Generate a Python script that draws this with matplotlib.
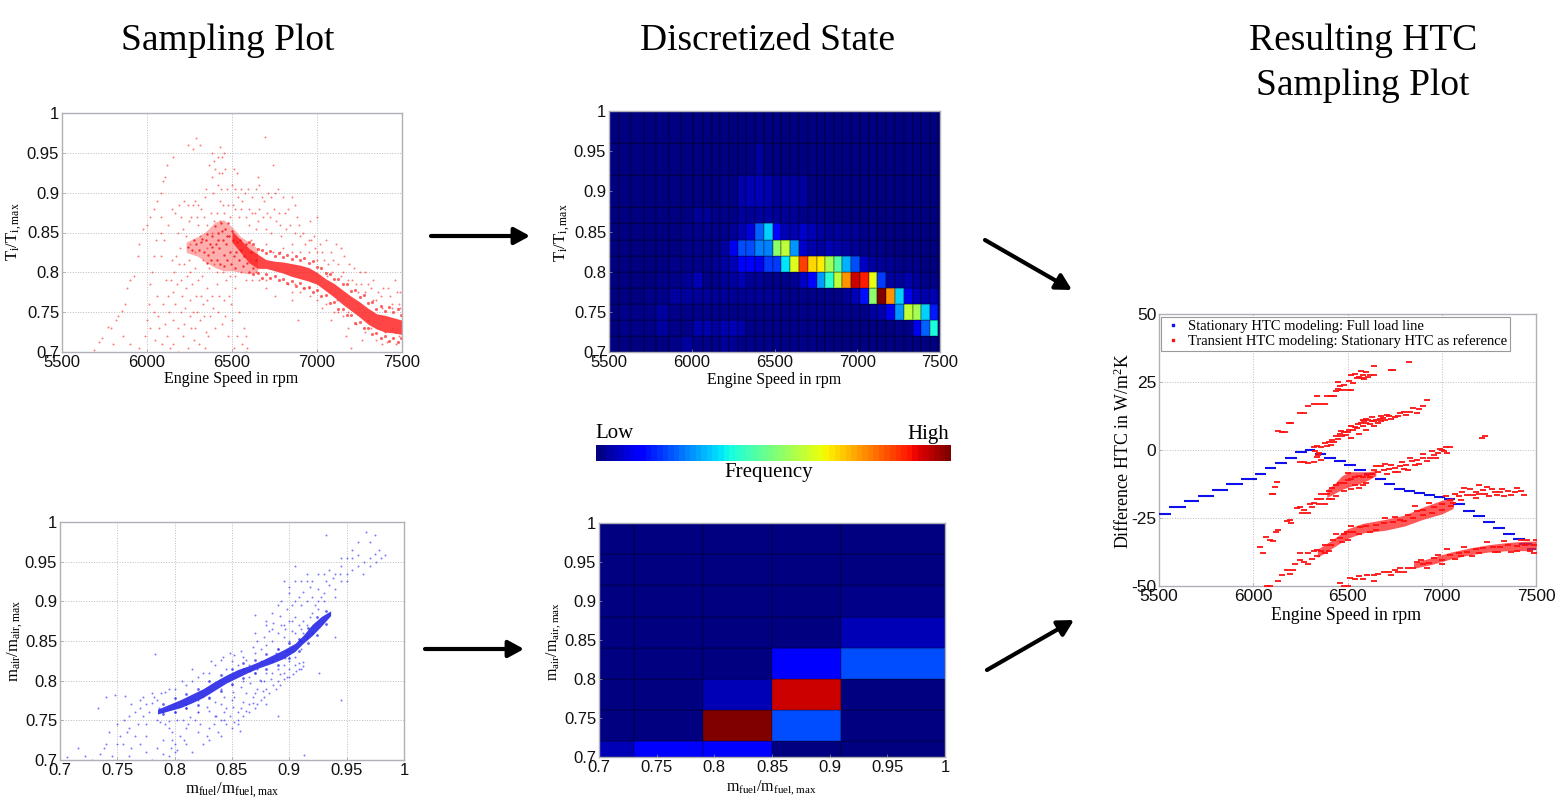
import matplotlib
matplotlib.use("Agg")
import matplotlib.pyplot as plt
from matplotlib.cm import ScalarMappable
from matplotlib.colors import Normalize
from matplotlib.lines import Line2D

W, H = 1560, 807
plt.rcParams['font.family'] = ['Liberation Sans', 'DejaVu Sans']
plt.rcParams['mathtext.fontset'] = 'custom'
plt.rcParams['mathtext.rm'] = 'Liberation Serif'
plt.rcParams['mathtext.it'] = 'Liberation Serif'
plt.rcParams['mathtext.bf'] = 'Liberation Serif'

# ---------------- DATA ----------------
speed_ticks = [5500, 6000, 6500, 7000, 7500]
ratio_ticks = [0.7, 0.75, 0.8, 0.85, 0.9, 0.95, 1]
ratio_labels = ['0.7', '0.75', '0.8', '0.85', '0.9', '0.95', '1']
htc_ticks = [-50, -25, 0, 25, 50]

temp_sparse = [(5690,.703),(5715,.712),(5735,.718),(5770,.731),(5790,.73),(5815,.74),(5830,.745),(5850,.752),(5870,.76),(5885,.78),(5900,.79),(5925,.795),(5945,.82),(5955,.835),(5975,.855),(6000,.86),(6020,.87),(6040,.88),(6060,.89),(6085,.9),(6095,.915),(6105,.92),(6120,.935),(6150,.945),
(5800,.71),(5860,.72),(5900,.71),(5950,.705),(5990,.72),(6000,.74),(6010,.76),(6020,.785),(6030,.80),(6040,.82),(6050,.84),(6080,.85),(6100,.84),(6085,.82),(6110,.79),(6060,.77),(6040,.75),(6070,.73),(6090,.71),(6120,.72),(6130,.75),(6150,.775),(6160,.80),(6170,.82),(6180,.85),(6200,.87),(6220,.89),(6240,.885),(6260,.87),(6280,.89),(6300,.885),(6320,.88),(6340,.895),(6300,.86),(6230,.845),(6220,.81),(6200,.79),(6230,.78),(6250,.765),(6200,.75),(6180,.73),(6150,.71),(6210,.72),(6240,.705),(6260,.73),(6270,.75),(6290,.77),(6300,.79),(6250,.80),(6280,.805),(6310,.74),(6330,.76),(6350,.78),(6360,.72),(6340,.705),(6400,.73),(6420,.75),(6450,.765),(6480,.77),(6500,.74),(6530,.72),(6560,.71),(6570,.73),(6540,.75),(6520,.78),
(6240,.96),(6270,.955),(6290,.968),(6310,.96),(6380,.95),(6430,.957),(6440,.945),(6450,.95),(6380,.92),(6400,.93),(6420,.91),(6440,.925),(6460,.93),(6470,.905),(6430,.89),(6410,.875),(6390,.90),(6510,.93),(6530,.925),(6550,.905),(6560,.89),(6500,.91),(6520,.88),(6540,.87),(6580,.87),(6600,.88),(6620,.895),(6640,.905),(6660,.88),(6680,.87),(6690,.89),(6710,.90),(6730,.895),(6750,.90),(6770,.905),(6800,.895),(6830,.88),(6850,.895),(6870,.885),(6650,.92),(6660,.91),(6695,.97),(6740,.935),
(6600,.86),(6640,.855),(6700,.855),(6730,.85),(6760,.865),(6790,.845),(6820,.855),(6850,.835),(6880,.87),(6900,.845),(6920,.85),(6950,.84),(6980,.845),(7000,.87),(6960,.865),(7020,.835),(7050,.84),(7080,.825),(7110,.835),(7140,.83),(7160,.82),(7190,.81),(7220,.805),(7250,.80),(7280,.80),(7300,.785),(7330,.79),(7360,.775),(7390,.78),(7420,.78),(7460,.79),(7490,.775),(7480,.76),(7440,.76),(7000,.825),(6950,.825),(6900,.825),(6850,.825),(6800,.83),(6700,.835),(7040,.815),(7090,.80),(7140,.795),(7180,.79),(7230,.785),(7280,.775),(7330,.765),(6950,.78),(7000,.765),(7050,.76),(7100,.75),(7150,.745),(7180,.73),(7200,.705),(7230,.735),(7280,.725),(7350,.715),(7410,.712),(7440,.73),(7480,.72),(7000,.70),(6700,.78),(6750,.77),(6850,.765),(6890,.74),(6580,.70),(6590,.705),(6585,.72),(6610,.84),(6640,.80),(6850,.775),(6900,.775),
(6255,.835),(6280,.825),(6310,.845),(6330,.815),(6350,.83),(6365,.805),(6380,.85),(6395,.81),(6410,.80),(6430,.865),(6445,.80),(6465,.79),(6490,.795),(6520,.795),(6550,.80),(6580,.79),(6620,.79),(6660,.79),(6700,.79),(6740,.825),(6780,.825),(6830,.785),(6870,.785),(6920,.78),(7000,.815),(7060,.795),(7120,.765),(7180,.75),(7240,.775),(7300,.74),(7350,.765),(7400,.725),(7460,.725),(7490,.755),(7440,.755),(7380,.755)]
temp_cloud_more = [(6015,.73),(6045,.715),(6065,.745),(6095,.76),(6105,.735),(6125,.77),(6135,.705),(6140,.79),(6145,.815),(6155,.74),(6165,.76),(6175,.785),(6185,.70),(6190,.81),(6195,.83),(6205,.77),(6215,.735),(6225,.755),(6235,.795),(6245,.815),(6255,.745),(6265,.785),(6275,.715),(6285,.73),(6295,.75),(6305,.71),(6315,.77),(6325,.795),(6335,.745),(6345,.725),(6355,.765),(6370,.745),(6380,.77),(6390,.755),(6410,.785),(6425,.77),(6440,.735),(6460,.745),(6475,.72),(6495,.76),(6510,.705),(6085,.87),(6125,.86),(6145,.88),(6165,.875),(6190,.885),(6210,.855),(6245,.865),(6270,.885),(6295,.87),(6335,.87),(6355,.86),(6375,.875),(6395,.865),(6345,.905),(6365,.935),(6395,.94),(6415,.945),(6425,.925),(6435,.905),(6445,.885),(6455,.875),(6475,.885),(6490,.87),(6505,.885),(6515,.905),(6535,.895),(6555,.88),(6575,.90),(6595,.905),(6615,.875),(6635,.875),(6655,.865),(6675,.895),(6705,.875),(6725,.87),(6745,.88),(6775,.875),(6810,.875),(6785,.86),(6840,.86),(6870,.85),(6895,.86),(6930,.835),(6965,.84),(6990,.83),(7030,.825),(7065,.81),(7095,.815),(7125,.81),(7155,.80),(7205,.79),(7260,.785),(7315,.78),(7375,.77),(7430,.77),(7470,.775),(6960,.77),(7030,.755),(7080,.74),(7125,.75),(7170,.72),(7265,.715),(7320,.73),(7385,.71),(7465,.71)]
temp_blob_dots = [(6240,.832),(6265,.828),(6275,.84),(6290,.835),(6305,.828),(6315,.838),(6325,.842),(6335,.825),(6345,.84),(6355,.848),(6360,.822),(6370,.835),(6375,.815),(6385,.845),(6390,.825),(6400,.858),(6405,.835),(6412,.815),(6420,.85),(6425,.83),(6430,.81),(6438,.862),(6445,.84),(6450,.822),(6455,.808),(6460,.855),(6465,.835),(6470,.815),(6478,.862),(6482,.845),(6490,.825),(6495,.81),(6505,.84),(6512,.82),(6520,.806),(6530,.838),(6540,.815),(6555,.828),(6565,.808),(6580,.835),(6590,.812),(6610,.826),(6625,.805),(6640,.815),(6350,.812),(6382,.832),(6418,.84),(6442,.852),(6472,.846),(6500,.852),(6525,.825),(6548,.84),(6570,.82),(6600,.80)]
temp_band_edges = [(6600,.838),(6625,.835),(6650,.829),(6675,.828),(6700,.824),(6725,.827),(6750,.821),(6775,.824),(6800,.819),(6825,.822),(6850,.817),(6875,.82),(6900,.815),(6925,.818),(6950,.812),(6975,.814),(7000,.807),(7025,.806),(7050,.799),(7075,.798),(7100,.792),(7125,.792),(7150,.785),(7175,.785),(7200,.777),(7225,.778),(7250,.769),(7275,.771),(7300,.761),(7325,.763),(7350,.754),(7375,.758),(7400,.751),(7425,.756),(7450,.75),(7475,.754),(7495,.747),
(6625,.798),(6650,.799),(6675,.793),(6700,.798),(6725,.793),(6750,.796),(6775,.79),(6800,.792),(6825,.787),(6850,.789),(6875,.783),(6900,.786),(6925,.78),(6950,.782),(6975,.775),(7000,.778),(7025,.77),(7050,.771),(7075,.762),(7100,.763),(7125,.754),(7150,.754),(7175,.746),(7200,.746),(7225,.737),(7250,.738),(7275,.73),(7300,.73),(7325,.722),(7350,.724),(7375,.717),(7400,.72),(7425,.714),(7450,.718),(7475,.712),(7495,.717)]

temp_band_x = [6500, 6550, 6600, 6650, 6700, 6750, 6800, 6850, 6900, 6950, 7000, 7050, 7100, 7150, 7200, 7250, 7300, 7350, 7400, 7450, 7500]
temp_band_lo = [.838, .825, .812, .805, .805, .802, .799, .795, .792, .789, .785, .777, .769, .760, .752, .744, .735, .729, .725, .724, .722]
temp_band_hi = [.852, .841, .830, .823, .816, .814, .813, .811, .809, .806, .800, .792, .786, .778, .770, .763, .755, .748, .746, .743, .740]
temp_blob_x = [6230, 6300, 6350, 6400, 6450, 6500, 6550, 6600, 6650]
temp_blob_lo = [.825, .820, .812, .806, .802, .802, .800, .798, .800]
temp_blob_hi = [.838, .845, .852, .863, .866, .857, .845, .838, .830]

bin_speed_edges = [5500,5560,5635,5710,5785,5860,5935,6010,6065,6120,6170,6225,6277,6330,6382,6435,6490,6542,6595,6648,6700,6755,6805,6857,6910,6962,7017,7070,7122,7175,7228,7280,7335,7387,7440,7490,7500]
bin_temp_edges = [.70,.72,.74,.76,.78,.80,.82,.84,.86,.88,.92,.96,1.0]
# bottom row first
temp_freq_r0 = [0,0,0,0,0,.01,.03,.01,.01,.01,.02,.02,.01,.01,.01,.01,.01,.01,.01,.01,.01,0,0,0,0,0,0,0,0,0,0,0,0,0,0,0]
temp_freq_r1 = [0,.01,.01,.01,.03,.01,.01,.04,.04,.03,.04,.05,.04,.01,.01,.01,.01,.01,.01,.01,.01,.01,0,0,0,0,0,0,0,0,.01,.01,.10,.22,.38,0]
temp_freq_r2 = [0,.01,.01,.01,.03,.01,.01,.01,.01,.01,.01,.01,.01,.01,.01,.01,.01,.01,.01,.01,.01,.01,.01,.01,.01,.01,.01,.03,.04,.10,.27,.58,.55,.33,.15,0]
temp_freq_r3 = [0,0,0,.01,.01,.03,.03,.02,.02,.02,.02,.02,.02,.02,.02,.02,.02,.01,.01,.01,.01,.01,.01,.01,.02,.05,.14,.52,1.0,.75,.33,.10,.05,.04,.05,0]
temp_freq_r4 = [0,0,0,0,.01,.01,.02,.05,.01,.01,.02,.03,.05,.02,.02,.01,.01,.01,.02,.06,.13,.28,.40,.58,.75,.93,.88,.63,.18,.03,.03,.04,.02,.01,.01,0]
temp_freq_r5 = [0,0,0,0,0,.01,.01,.01,.01,.02,.03,.05,.12,.12,.10,.18,.18,.35,.62,.84,.68,.66,.55,.45,.30,.20,.06,.03,.02,.02,.01,.01,.01,0,0,0]
temp_freq_r6 = [0,0,0,0,0,0,.01,.01,.01,.01,.03,.10,.20,.20,.25,.25,.52,.58,.27,.07,.04,.03,.05,.04,.03,.02,.01,.01,.01,0,0,0,0,0,0,0]
temp_freq_r7 = [0,0,0,0,0,0,.01,.01,.01,.01,.01,.02,.05,.08,.22,.33,.12,.05,.04,.07,.05,.03,.02,.03,.02,.02,.01,.01,0,0,0,0,0,0,0,0]
temp_freq_r8 = [0,0,0,0,0,0,0,.02,.02,.01,.01,.01,.03,.02,.03,.03,.02,.02,.02,.01,.01,.01,0,0,0,0,0,0,0,0,0,0,0,0,0,0]
temp_freq_r9 = [0,0,0,0,0,0,0,0,0,0,.01,.01,.04,.05,.05,.04,.02,.03,.03,.03,0,0,0,0,0,0,0,0,0,0,0,0,0,0,0,0]
temp_freq_r10 = [0,0,0,0,0,0,0,0,0,0,0,0,0,0,.03,0,0,0,0,0,0,0,0,0,0,0,0,0,0,0,0,0,0,0,0,0]
temp_freq_r11 = [0]*36
temp_freq = [temp_freq_r0, temp_freq_r1, temp_freq_r2, temp_freq_r3, temp_freq_r4, temp_freq_r5, temp_freq_r6, temp_freq_r7, temp_freq_r8, temp_freq_r9, temp_freq_r10, temp_freq_r11]

air_sparse = [(.706,.704),(.716,.715),(.728,.70),(.735,.708),(.745,.705),(.75,.72),(.733,.765),(.74,.78),(.748,.782),(.757,.781),(.75,.745),(.76,.755),(.756,.75),(.765,.76),(.77,.765),(.775,.77),(.78,.772),(.785,.775),(.788,.785),(.792,.786),(.782,.78),(.77,.775),(.76,.74),(.765,.73),(.77,.72),(.775,.71),(.755,.72),(.74,.72),(.76,.705),(.78,.70),(.785,.715),(.79,.725),(.795,.705),(.797,.715),(.80,.72),(.775,.745),(.785,.75),(.795,.74),(.805,.73),(.81,.74),(.82,.735),(.83,.74),(.825,.72),(.815,.71),(.803,.70),(.84,.73),(.85,.74),(.855,.75),(.86,.755),(.845,.765),(.835,.755),(.82,.76),(.81,.765),(.80,.76),(.79,.76),
(.787,.748),(.795,.749),(.802,.75),(.807,.751),(.813,.754),(.82,.76),(.828,.767),(.835,.773),(.843,.78),(.851,.786),(.858,.792),(.866,.797),(.874,.801),(.836,.755),(.843,.76),(.851,.767),(.86,.773),(.868,.78),(.877,.787),(.886,.795),(.895,.802),(.903,.809),(.91,.815),(.912,.824),(.908,.822),(.90,.815),(.89,.80),(.88,.79),(.87,.785),(.875,.775),(.865,.77),(.855,.76),(.85,.775),
(.783,.834),(.89,.755),(.857,.737),(.913,.706),(.926,.81),(.945,.775),(.94,.855),(.932,.983),(.902,.875),(.87,.883),
(.80,.79),(.81,.795),(.82,.805),(.83,.81),(.84,.826),(.845,.815),(.85,.825),(.86,.83),(.865,.82),(.87,.835),(.875,.84),(.88,.845),(.885,.85),(.89,.86),(.895,.87),(.90,.875),(.905,.88),(.91,.865),(.915,.87),(.92,.885),(.925,.89),(.905,.86),(.895,.855),(.885,.865),(.893,.87),(.915,.855),(.90,.85),(.91,.85),(.92,.86),
(.88,.875),(.885,.885),(.89,.895),(.893,.90),(.90,.91),(.905,.90),(.91,.895),(.915,.90),(.92,.905),(.925,.915),(.93,.91),(.935,.92),(.94,.915),(.945,.925),(.95,.935),(.955,.94),(.96,.945),(.965,.95),(.97,.955),(.975,.96),(.98,.955),(.983,.958),(.978,.965),(.97,.975),(.975,.983),(.967,.987),(.96,.975),(.955,.965),(.95,.955),(.945,.945),(.94,.935),(.935,.94),(.93,.935),(.925,.935),(.92,.925),(.915,.925),(.91,.925),(.905,.925),(.90,.918),(.895,.925),(.905,.945),(.915,.935),(.945,.955),(.94,.905),(.93,.90),(.925,.90),
(.855,.82),(.86,.815),(.87,.81),(.875,.80),(.88,.81),(.885,.81),(.89,.815),(.895,.82),(.90,.825),(.905,.83),(.91,.84),(.905,.82),(.895,.81),(.885,.825),(.875,.825),(.865,.805),(.86,.80),(.85,.795),(.84,.79),(.83,.78),(.82,.775),(.81,.77),(.88,.77),(.865,.76),(.87,.765),(.84,.75),(.845,.745),(.855,.745),(.83,.725),(.81,.72),(.80,.71),(.798,.735),(.79,.708),(.775,.73)]
air_cloud_more = [(.722,.705),(.738,.715),(.752,.73),(.758,.735),(.743,.735),(.762,.715),(.768,.745),(.772,.755),(.778,.76),(.762,.77),(.772,.78),(.78,.785),(.786,.765),(.792,.745),(.798,.725),(.802,.712),(.808,.725),(.812,.745),(.818,.75),(.822,.745),(.828,.73),(.834,.745),(.838,.735),(.843,.75),(.848,.755),(.852,.748),(.858,.765),(.862,.762),(.868,.772),(.872,.77),(.878,.78),(.882,.785),(.888,.79),(.892,.795),(.898,.805),(.906,.812),(.872,.79),(.862,.785),(.852,.78),(.84,.77),(.83,.762),(.878,.80),(.884,.802),(.892,.808),(.90,.805),(.908,.815),(.912,.818),(.896,.828),(.888,.835),(.872,.815),(.866,.812),(.806,.80),(.815,.80),(.825,.81),(.835,.82),(.842,.83),(.852,.832),(.858,.838),(.862,.826),(.868,.842),(.872,.85),(.878,.855),(.882,.862),(.886,.873),(.892,.882),(.898,.89),(.902,.895),(.908,.905),(.912,.912),(.918,.918),(.896,.865),(.902,.862),(.908,.87),(.912,.875),(.918,.88),(.922,.895),(.928,.905),(.932,.925),(.938,.93),(.944,.935),(.95,.925),(.955,.955),(.96,.958),(.964,.935),(.97,.945),(.976,.95),(.795,.79),(.815,.815),(.832,.825),(.848,.835),(.87,.86),(.88,.87),(.89,.84),(.898,.838),(.912,.86)]
air_band_edges = [(.79,.758),(.80,.76),(.81,.765),(.82,.769),(.83,.778),(.84,.787),(.85,.796),(.86,.803),(.87,.81),(.88,.815),(.89,.82),(.90,.828),(.908,.838),(.916,.848),(.924,.858),(.932,.872),(.79,.77),(.80,.778),(.81,.783),(.82,.79),(.83,.80),(.84,.807),(.85,.815),(.86,.822),(.87,.826),(.88,.834),(.89,.84),(.90,.848),(.908,.853),(.916,.866),(.924,.88),(.932,.888)]

air_band_x = [.785, .795, .805, .815, .825, .835, .845, .855, .865, .875, .885, .895, .905, .912, .92, .928, .936]
air_band_lo = [.758, .762, .766, .772, .779, .788, .797, .804, .811, .817, .822, .828, .837, .847, .857, .869, .882]
air_band_hi = [.764, .770, .776, .783, .790, .799, .807, .814, .819, .825, .832, .839, .847, .857, .871, .881, .888]

bin_fuel_edges = [.70, .73, .79, .85, .91, 1.0]
bin_air_edges = [.70, .72, .76, .80, .84, .88, .92, .96, 1.0]
air_freq_r0 = [.05, .11, .11, 0, 0]
air_freq_r1 = [0, 0, 1.0, .20, 0]
air_freq_r2 = [0, 0, .05, .93, 0]
air_freq_r3 = [0, 0, 0, .11, .20]
air_freq_r4 = [0, 0, 0, 0, .05]
air_freq_r5 = [0, 0, 0, 0, .01]
air_freq_r6 = [0, 0, 0, 0, 0]
air_freq_r7 = [0, 0, 0, 0, 0]
air_freq = [air_freq_r0, air_freq_r1, air_freq_r2, air_freq_r3, air_freq_r4, air_freq_r5, air_freq_r6, air_freq_r7]

stat_start = [5500,5555,5633,5705,5782,5856,5933,6010,6062,6115,6168,6221,6274,6328,6376,6428,6481,6535,6588,6646,6694,6747,6800,6853,6907,6960,7013,7062,7115,7168,7221,7272,7325,7378,7410,7452]
stat_end = [5564,5642,5714,5792,5865,5945,6018,6068,6120,6177,6230,6287,6328,6387,6438,6492,6545,6597,6647,6705,6753,6806,6858,6912,6965,7018,7068,7124,7177,7230,7283,7337,7390,7439,7480,7500]
stat_htc = [-23.6,-20.8,-18.7,-16.8,-14.7,-12.6,-10.6,-8.7,-6.7,-4.7,-2.8,-.7,0,-1.4,-2.8,-4.2,-5.6,-7.3,-9,-10.7,-12.5,-14.2,-15,-15.7,-16.4,-17.1,-18.1,-20,-22.3,-24.4,-26.5,-28.6,-30.7,-32.6,-34.6,-36.5]

trans_a = [(6130,7),(6150,6.8),(6170,6.8),(6190,10),(6200,10),(6250,13.5),(6270,13.5),(6290,16),(6320,17),(6350,17),(6380,17),(6340,20),(6390,20),(6430,20),(6410,20),(6450,22.5),(6470,22),(6500,22),(6520,22),(6480,24),(6450,25),(6530,24.5),(6560,27),(6580,27.5),(6610,27),(6550,26.5),(6620,27.5),(6600,28.5),(6570,29),(6540,28),(6520,27.5),(6640,27.5),(6638,30.7),(6744,29.5),(6730,29.5),(6824,32.2),(6510,25.5),(6440,21.8),(6460,23.5),(6575,26.5),(6590,26)]
trans_b = [(6320,1.2),(6340,1.5),(6360,1),(6330,-.5),(6350,-1),(6345,-2),(6380,2.5),(6400,3),(6420,3.5),(6440,5),(6460,6),(6480,6.5),(6470,5),(6510,7.5),(6520,9),(6540,8.5),(6555,9.5),(6570,10),(6590,10.5),(6610,11),(6630,10.5),(6650,11),(6670,11.5),(6690,11.7),(6720,12.5),(6750,12),(6780,13.5),(6800,14),(6850,15.4),(6880,15.2),(6921,18.5),(6900,16),(6520,4.5),(6560,6),(6600,7.5),(6640,9),(6250,-4.5),(6270,-4.5),(6320,-4.5),(6290,-4.8),(6107,-16),(6100,-16),(6125,-11.6),(6118,-13.5),(6340,-2.5),(6360,-3.5),(6390,1.5),(6410,2),(6430,3),(6450,4),(6465,7),(6490,5.5),(6500,6.5),(6530,7.5),(6550,8),(6580,9),(6600,9.8),(6620,9.5),(6640,10.5),(6660,10),(6680,10.5),(6700,11),(6730,11.5),(6770,12.5),(6810,13),(6830,14),(6870,13.5),(6580,11),(6600,11.5),(6630,12),(6680,12.5),(6710,13)]
trans_c = [(6036,-35.5),(6050,-38),(6070,-32),(6090,-33),(6107,-33.5),(6120,-30),(6130,-29.5),(6180,-26),(6195,-25.7),(6200,-27),(6231,-21.4),(6250,-21),(6270,-22),(6300,-20),(6320,-19.6),(6340,-18),(6290,-23),(6360,-18),(6390,-16),(6400,-15),(6420,-14),(6440,-13),(6460,-12.2),(6480,-12),(6500,-11),(6520,-10.5),(6540,-10),(6560,-9.5),(6500,-8.5),(6540,-13),(6580,-10),(6603,-9.1),(6630,-9),(6660,-8),(6691,-7.3),(6720,-7),(6750,-6.5),(6780,-6),(6810,-5.5),(6840,-4),(6868,-3.6),(6900,-3),(6940,-3),(6957,-1.8),(6980,-1),(7000,0),(7020,1),(7045,1),(6750,-8),(6800,-7),(6860,-5.5),(6700,-5),(6650,-6),(6900,-1.5),(7213,4.4),(7231,5.2),(6380,-20),(6420,-18),(6580,-13),
(6710,-9),(6730,-5.5),(6770,-8),(6790,-4.5),(6820,-7.5),(6830,-3),(6880,-5),(6920,-4),(6950,-.5),(6970,-3),(6990,.5),(7010,-.5),(7030,-1),(6680,-6),(6640,-7.5),(6620,-10),(6600,-12),(6560,-14),(6520,-14.5),(6480,-15),(6440,-17),(6400,-18),(6360,-16),(6350,-20),(6310,-21),(6260,-23)]
trans_d = [(6072,-50),(6090,-50),(6130,-48),(6178,-44),(6195,-45.5),(6220,-42),(6249,-40.4),(6270,-41),(6290,-38),(6320,-37),(6337,-36.7),(6360,-37),(6380,-35),(6410,-35),(6425,-33),(6460,-32.5),(6480,-31),(6496,-30),(6530,-30),(6567,-28.4),(6600,-28),(6650,-27.5),(6691,-27),(6740,-26.5),(6780,-25.7),(6820,-24),(6868,-22.6),(6900,-22),(6957,-20.8),(7000,-20),(7045,-18.3),(7090,-17),(7133,-16.5),(7180,-15.5),(7221,-14.7),(7240,-13.5),(7280,-15.5),(7310,-15.3),(7350,-15),(7390,-15.5),(7434,-16.5),(7330,-17),(7250,-17),(7180,-17.5),(7100,-18.5),(7060,-19.5),(6250,-38),(6290,-42),(6340,-39),(6400,-37),(6500,-33),(6620,-30),(6850,-25),(6950,-23),(7120,-14),(7200,-13),(7420,-15),
(7020,-17),(7070,-16),(7110,-15.5),(7150,-14.5),(7165,-16.5),(7200,-16),(7230,-16),(7265,-14.5),(7295,-16.5),(7320,-14.5),(7365,-16.5),(7400,-14),(7050,-20.5),(7000,-22),(6930,-19.5),(6900,-24),(6860,-20.5),(6800,-26),(6750,-24.5),(6700,-25),(6650,-29.5),(6560,-31),(6520,-28),(6470,-34),(6440,-31),(6380,-38),(6310,-40),(6210,-44),(6150,-46)]
trans_e = [(6461,-49),(6480,-50),(6514,-47),(6540,-47.5),(6560,-46.5),(6603,-46),(6640,-46),(6691,-44.7),(6720,-45),(6750,-44),(6780,-43.5),(6820,-43.5),(6868,-41),(6900,-42),(6930,-41.5),(6957,-39.8),(7000,-40.5),(7045,-38.6),(7090,-38),(7133,-37.4),(7180,-36.5),(7221,-36),(7270,-35.5),(7310,-35.5),(7350,-35),(7398,-35.3),(7440,-35),(7487,-35),(7400,-37),(7450,-33),(7500,-33),(7300,-37.5),(7200,-38),(7100,-39),(7000,-42),(6800,-45),(6640,-48),
(6500,-50),(6580,-47.5),(6660,-45.5),(6730,-46),(6770,-45),(6850,-43.5),(6890,-40.5),(6920,-43.5),(6980,-38.5),(7030,-36.5),(7070,-40),(7120,-35.5),(7160,-39),(7240,-34),(7280,-37.5),(7330,-33.5),(7370,-37.5),(7420,-33),(7470,-37),(7490,-38)]
band_d_x = [6340, 6420, 6500, 6580, 6700, 6800, 6900, 7000, 7060]
band_d_lo = [-39.5, -36, -32.5, -30.5, -29.5, -28, -25.5, -23.5, -21.5]
band_d_hi = [-36.5, -33, -29, -27, -25.5, -24, -21, -18.5, -17.5]
band_e_x = [6850, 6950, 7050, 7150, 7250, 7350, 7450, 7500]
band_e_lo = [-43.5, -42, -40, -38.5, -37.5, -37, -37, -36.5]
band_e_hi = [-41.5, -39.5, -37.5, -36, -34.8, -34, -33.5, -33.5]
band_c_x = [6390, 6430, 6470, 6510, 6560, 6610, 6650]
band_c_lo = [-17.5, -16, -14.5, -13.5, -12.5, -11, -9.5]
band_c_hi = [-14.5, -12.5, -9.5, -8, -8, -8, -7.5]

legend_labels = ['Stationary HTC modeling: Full load line', 'Transient HTC modeling: Stationary HTC as reference']

# ---------------- HELPERS ----------------
fig = plt.figure(figsize=(15.6, 8.07), dpi=100, facecolor='white')

def axes_px(l, t, r, b):
    return fig.add_axes([l / W, 1 - b / H, (r - l) / W, (b - t) / H])

def text_px(x, y, s, **kw):
    kw.setdefault('family', ['Liberation Serif', 'DejaVu Serif'])
    kw.setdefault('ha', 'center')
    kw.setdefault('va', 'center')
    fig.text(x / W, 1 - y / H, s, **kw)

def arrow_px(x0, y0, x1, y1):
    fig.add_artist(matplotlib.patches.FancyArrowPatch(
        (x0 / W, 1 - y0 / H), (x1 / W, 1 - y1 / H), transform=fig.transFigure,
        arrowstyle='-|>,head_length=0.55,head_width=0.3', mutation_scale=17,
        color='black', lw=3, shrinkA=0, shrinkB=0))

def style(ax, xt, xl, yt, yl, xlim, ylim, grid, fs=12, xpad=2.5, ypad=2):
    ax.set_xlim(xlim)
    ax.set_ylim(ylim)
    ax.set_xticks(xt, xl)
    ax.set_yticks(yt, yl)
    ax.tick_params(direction='in', length=2.5, width=0.5, color='#999999', labelsize=fs,
                   labelcolor='#111111')
    ax.tick_params(axis='x', pad=xpad)
    ax.tick_params(axis='y', pad=ypad)
    for s in ax.spines.values():
        s.set_color('#b0b0b8')
        s.set_linewidth(1)
    if grid:
        ax.grid(True, ls=':', lw=0.7, color='#bbbbbb')
        ax.set_axisbelow(True)

def dots(ax, pts, color, size=2.0, alpha=.6):
    ax.scatter([p[0] for p in pts], [p[1] for p in pts], s=size, c=color, alpha=alpha, linewidths=0)

# ---------------- TOP LEFT ----------------
ax1 = axes_px(62, 113, 402, 352)
style(ax1, speed_ticks, [str(v) for v in speed_ticks], ratio_ticks, ratio_labels, (5500, 7500), (.7, 1), True)
ax1.fill_between(temp_blob_x, temp_blob_lo, temp_blob_hi, color='#ff4040', alpha=.42, lw=0)
ax1.fill_between(temp_band_x, temp_band_lo, temp_band_hi, color='#ff1818', alpha=.8, lw=0)
dots(ax1, temp_sparse, '#ff2020')
dots(ax1, temp_cloud_more, '#ff2020')
dots(ax1, temp_blob_dots, '#f01010', size=3, alpha=.8)
dots(ax1, temp_band_edges, '#ff2020', size=5, alpha=.7)

# ---------------- BOTTOM LEFT ----------------
ax2 = axes_px(60, 522, 404, 760)
style(ax2, ratio_ticks, ratio_labels, ratio_ticks, ratio_labels, (.7, 1), (.7, 1), True)
ax2.fill_between(air_band_x, air_band_lo, air_band_hi, color='#1a1ae6', alpha=.85, lw=0)
dots(ax2, air_sparse, '#2020ff')
dots(ax2, air_cloud_more, '#2020ff')
dots(ax2, air_band_edges, '#2020ee', size=4, alpha=.7)

# ---------------- HEATMAPS ----------------
ax3 = axes_px(609, 111, 940, 352)
style(ax3, speed_ticks, [str(v) for v in speed_ticks], ratio_ticks, ratio_labels, (5500, 7500), (.7, 1), False)
ax3.pcolormesh(bin_speed_edges, bin_temp_edges, temp_freq, cmap='jet', vmin=0, vmax=1,
               edgecolors=(0, 0, 0, .18), linewidth=0.3)

ax4 = axes_px(599, 523, 945, 757)
style(ax4, ratio_ticks, ratio_labels, ratio_ticks, ratio_labels, (.7, 1), (.7, 1), False)
ax4.pcolormesh(bin_fuel_edges, bin_air_edges, air_freq, cmap='jet', vmin=0, vmax=1,
               edgecolors=(0, 0, 0, .15), linewidth=0.3)

cax = axes_px(596, 445, 951, 461)
cb = fig.colorbar(ScalarMappable(Normalize(0, 1), plt.get_cmap('jet', 64)), cax=cax, orientation='horizontal')
cb.set_ticks([])
cb.outline.set_visible(False)

# ---------------- RIGHT ----------------
ax5 = axes_px(1159, 314, 1536, 586)
style(ax5, speed_ticks, [str(v) for v in speed_ticks], htc_ticks, [str(v) for v in htc_ticks],
      (5500, 7500), (-50, 50), True, fs=12.5)
ax5.hlines(stat_htc, stat_start, stat_end, colors='#1010ee', lw=1.5, zorder=3)
for bx, lo, hi in [(band_c_x, band_c_lo, band_c_hi), (band_d_x, band_d_lo, band_d_hi), (band_e_x, band_e_lo, band_e_hi)]:
    ax5.fill_between(bx, lo, hi, color='#ff2020', alpha=.75, lw=0, zorder=4)
for series in [trans_a, trans_b, trans_c, trans_d, trans_e]:
    ax5.plot([p[0] for p in series], [p[1] for p in series], ls='none', marker='_', ms=4, mew=1.3,
             color='#ff1010', zorder=5)
handles = [Line2D([], [], ls='none', marker='s', ms=1.5, color='#1010ee'),
           Line2D([], [], ls='none', marker='s', ms=1.5, color='#ff1010')]
leg = ax5.legend(handles, legend_labels, loc='upper left', bbox_to_anchor=(0.006, 0.99), borderaxespad=0,
                 prop={'family': 'Liberation Serif', 'size': 10.5}, fancybox=False, framealpha=1, edgecolor='#999999',
                 labelspacing=0.1, handletextpad=0.4, borderpad=0.2, handlelength=1.2)
leg.get_frame().set_linewidth(0.8)
leg.set_zorder(10)

# ---------------- TEXT ----------------
text_px(228, 41, 'Sampling Plot', fontsize=27)
text_px(768, 41, 'Discretized State', fontsize=27)
text_px(1363, 41, 'Resulting HTC', fontsize=27)
text_px(1363, 86, 'Sampling Plot', fontsize=27)

text_px(231, 379, 'Engine Speed in rpm', fontsize=11.5)
text_px(774, 380, 'Engine Speed in rpm', fontsize=11.5)
text_px(1346, 616, 'Engine Speed in rpm', fontsize=12.8)
text_px(232, 790, r'$\mathrm{m_{fuel}/m_{fuel,max}}$', fontsize=12)
text_px(771, 788, r'$\mathrm{m_{fuel}/m_{fuel,max}}$', fontsize=11.5)
text_px(14, 232, r'$\mathrm{T_i/T_{i,max}}$', fontsize=12, rotation=90)
text_px(562, 233, r'$\mathrm{T_i/T_{i,max}}$', fontsize=12, rotation=90)
text_px(15, 641, r'$\mathrm{m_{air}/m_{air,max}}$', fontsize=12, rotation=90)
text_px(554, 641, r'$\mathrm{m_{air}/m_{air,max}}$', fontsize=11.5, rotation=90)
text_px(1123, 451, r'$\mathrm{Difference\ HTC\ in\ W/m^2K}$', fontsize=12.8, rotation=90)
text_px(614, 433, 'Low', fontsize=15)
text_px(928, 434, 'High', fontsize=15)
text_px(769, 472, 'Frequency', fontsize=15)

arrow_px(431, 236, 530, 236)
arrow_px(425, 649, 524, 649)
arrow_px(985, 240, 1072, 290)
arrow_px(987, 670, 1074, 620)

fig.savefig('out.png', dpi=100)
